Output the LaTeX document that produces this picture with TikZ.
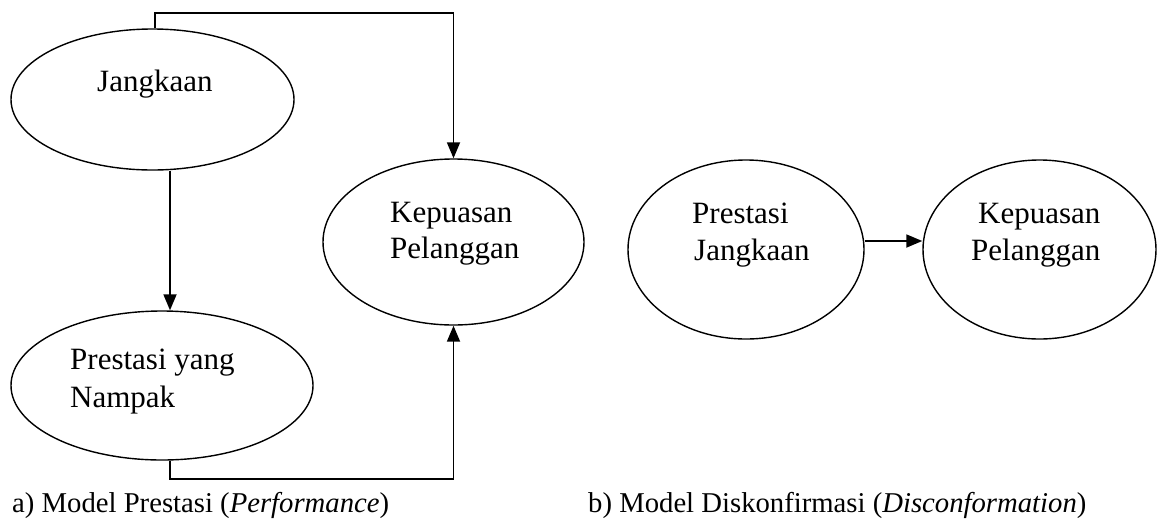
\documentclass[tikz,border=0pt]{standalone}
\usepackage{fontspec}
\setmainfont{Liberation Serif}
\usetikzlibrary{shapes.geometric,arrows.meta}
\begin{document}
\begin{tikzpicture}[x=1pt,y=-1pt,
  oval/.style={draw,ellipse,inner sep=0pt,line width=1.4pt},
  lbl/.style={anchor=base west,inner sep=0pt,font=\fontsize{31}{36}\selectfont},
  captxt/.style={anchor=base west,inner sep=0pt,font=\fontsize{28.7}{33}\selectfont},
  link/.style={line width=1.8pt},
  arr/.style={link,-{Triangle[length=16pt,width=13pt]}}]
\useasboundingbox (0,0) rectangle (1159,523);

% ovals
\node[oval,minimum width=283pt,minimum height=141pt] (jang) at (152.5,99.5) {};
\node[oval,minimum width=302pt,minimum height=149pt] (pre) at (162,385.5) {};
\node[oval,minimum width=261pt,minimum height=166pt] (kep) at (453.5,242) {};
\node[oval,minimum width=236pt,minimum height=179pt] (pj) at (746,249.5) {};
\node[oval,minimum width=233pt,minimum height=179pt] (kp2) at (1039.5,249.5) {};

% texts inside the ovals
\node[lbl] (t1) at (97,91) {Jangkaan};
\node[lbl] (t2a) at (70,369) {Prestasi yang};
\node[lbl] (t2b) at (70,407) {Nampak};
\node[lbl] (t3a) at (390,222) {Kepuasan};
\node[lbl] (t3b) at (390,258) {Pelanggan};
\node[lbl] (t4a) at (692,223) {Prestasi};
\node[lbl] (t4b) at (694,260) {Jangkaan};
\node[lbl] (t5a) at (978,223) {Kepuasan};
\node[lbl] (t5b) at (971,260) {Pelanggan};

% captions
\node[captxt] (ca) at (12,512) {a) Model Prestasi (\textit{Performance})};
\node[captxt] (cb) at (588,512) {b) Model Diskonfirmasi (\textit{Disconformation})};

% routing helpers
\coordinate (top) at (0,13);
\coordinate (bot) at (0,479);
\coordinate (xa) at (170,0);
\coordinate (xt) at (155,0);
\coordinate (ya) at (0,241);

% connectors
\draw[arr] (jang.north -| xt) -- (xt |- top) -| (kep.north);
\draw[arr] (jang.south -| xa) -- (pre.north -| xa);
\draw[arr] (pre.south -| xa) -- (xa |- bot) -| (kep.south);
\draw[arr] (pj.east |- ya) -- (kp2.west |- ya);
\end{tikzpicture}
\end{document}
